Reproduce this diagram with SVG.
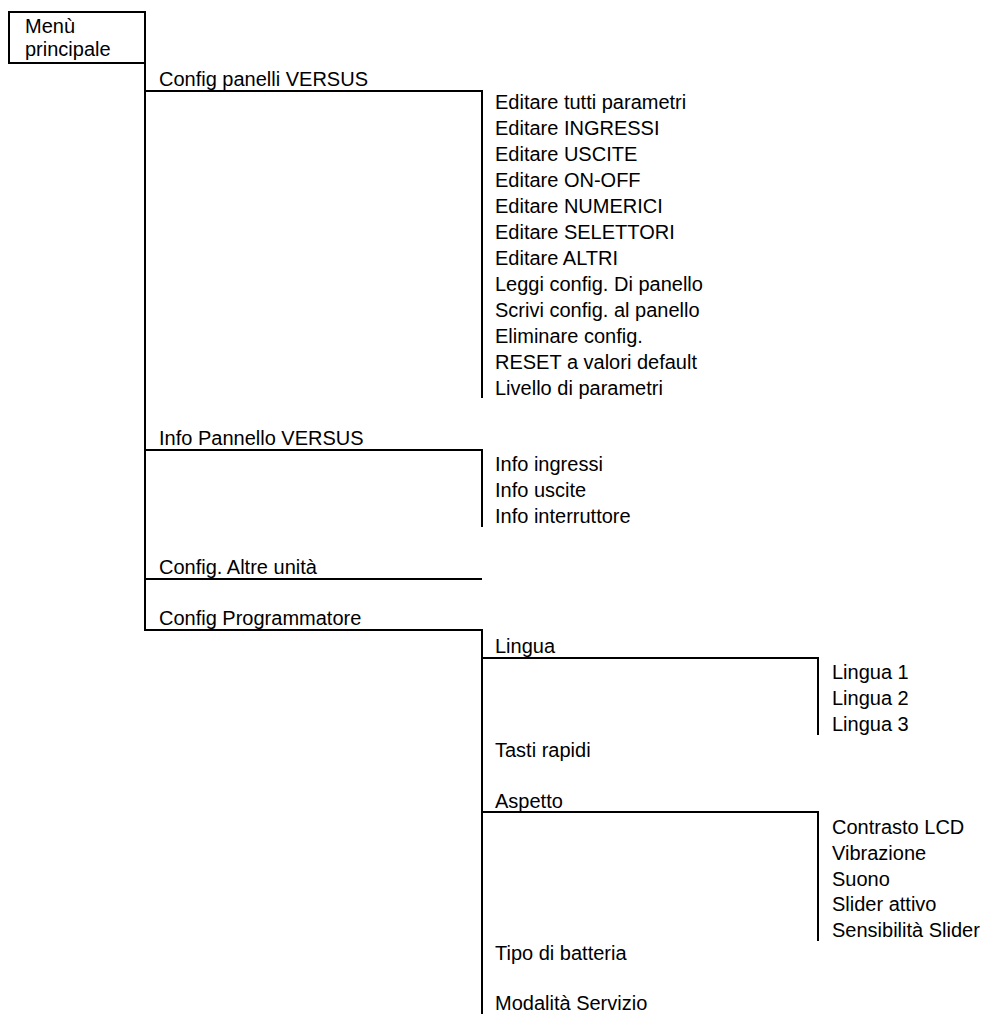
<svg xmlns="http://www.w3.org/2000/svg" width="982" height="1014" viewBox="0 0 982 1014">
<style>
text{font-family:"Liberation Sans",Arial,sans-serif;font-size:20px;fill:#000}
.c{fill:none;stroke:#000;stroke-width:2}
</style>
<rect width="982" height="1014" fill="#fff"/>
<g id="connectors">
<path class="c" d="M145,63 V631"/>
<path class="c" d="M145,91 H482 V398"/>
<path class="c" d="M145,450 H482 V527"/>
<path class="c" d="M145,579 H482"/>
<path class="c" d="M145,630 H482 V1014"/>
<path class="c" d="M482,658 H818 V735"/>
<path class="c" d="M482,812 H818 V941"/>
</g>
<g id="menu-principale">
<rect x="9" y="12" width="136" height="51" fill="#fff" stroke="#000" stroke-width="2"/>
<text x="25" y="33">Menù</text>
<text x="25" y="56">principale</text>
</g>
<g id="config-panelli"><text x="159" y="86">Config panelli VERSUS</text></g>
<g id="editare-tutti"><text x="495" y="109">Editare tutti parametri</text></g>
<g id="editare-ingressi"><text x="495" y="135">Editare INGRESSI</text></g>
<g id="editare-uscite"><text x="495" y="161">Editare USCITE</text></g>
<g id="editare-onoff"><text x="495" y="187">Editare ON-OFF</text></g>
<g id="editare-numerici"><text x="495" y="213">Editare NUMERICI</text></g>
<g id="editare-selettori"><text x="495" y="239">Editare SELETTORI</text></g>
<g id="editare-altri"><text x="495" y="265">Editare ALTRI</text></g>
<g id="leggi-config"><text x="495" y="291">Leggi config. Di panello</text></g>
<g id="scrivi-config"><text x="495" y="317">Scrivi config. al panello</text></g>
<g id="eliminare-config"><text x="495" y="343">Eliminare config.</text></g>
<g id="reset"><text x="495" y="369">RESET a valori default</text></g>
<g id="livello"><text x="495" y="395">Livello di parametri</text></g>
<g id="info-pannello"><text x="159" y="445">Info Pannello VERSUS</text></g>
<g id="info-ingressi"><text x="495" y="471">Info ingressi</text></g>
<g id="info-uscite"><text x="495" y="497">Info uscite</text></g>
<g id="info-interruttore"><text x="495" y="523">Info interruttore</text></g>
<g id="config-altre"><text x="159" y="574">Config. Altre unità</text></g>
<g id="config-programmatore"><text x="159" y="625">Config Programmatore</text></g>
<g id="lingua"><text x="495" y="653">Lingua</text></g>
<g id="lingua1"><text x="832" y="679">Lingua 1</text></g>
<g id="lingua2"><text x="832" y="705">Lingua 2</text></g>
<g id="lingua3"><text x="832" y="731">Lingua 3</text></g>
<g id="tasti-rapidi"><text x="495" y="757">Tasti rapidi</text></g>
<g id="aspetto"><text x="495" y="808">Aspetto</text></g>
<g id="contrasto"><text x="832" y="834">Contrasto LCD</text></g>
<g id="vibrazione"><text x="832" y="860">Vibrazione</text></g>
<g id="suono"><text x="832" y="886">Suono</text></g>
<g id="slider-attivo"><text x="832" y="911">Slider attivo</text></g>
<g id="sensibilita"><text x="832" y="937">Sensibilità Slider</text></g>
<g id="tipo-batteria"><text x="495" y="960">Tipo di batteria</text></g>
<g id="modalita-servizio"><text x="495" y="1010">Modalità Servizio</text></g>
</svg>
